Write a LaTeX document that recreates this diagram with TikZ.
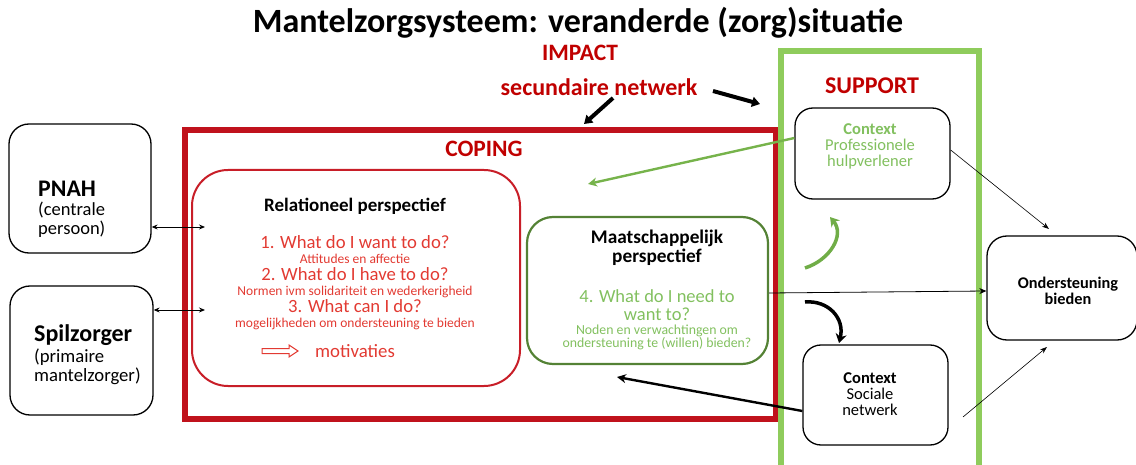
\documentclass[tikz,border=0pt]{standalone}
\usepackage{fontspec}
\setmainfont{Carlito}
\usetikzlibrary{arrows.meta}

\definecolor{titlered}{RGB}{192,0,0}
\definecolor{framered}{RGB}{192,18,28}
\definecolor{softred}{RGB}{226,58,50}
\definecolor{boxred}{RGB}{200,30,40}
\definecolor{framegreen}{RGB}{143,204,92}
\definecolor{darkgreen}{RGB}{84,130,53}
\definecolor{softgreen}{RGB}{130,192,95}
\definecolor{arrowgreen}{RGB}{112,173,71}

% font size with a given line distance
\newcommand\fsz[2]{\fontsize{#1}{#2}\selectfont}

\begin{document}
\begin{tikzpicture}[x=1pt,y=-1pt,
  box/.style={draw=black, line width=1.3pt, rounded corners=20pt, inner sep=0pt, fill=white},
  txt/.style={inner sep=0pt, anchor=center, align=center},
  ltxt/.style={inner sep=0pt, anchor=west, align=left},
  thin/.style={line width=0.6pt, -{Stealth[length=7pt,width=5pt]}},
  heavy/.style={line width=4pt, -{Triangle[length=8pt,width=10pt]}},
]
\useasboundingbox (0,0) rectangle (1136,465);

% title and heading labels
\node[txt, font=\fsz{34}{36}\bfseries] (title) at (578,23) {Mantelzorgsysteem: veranderde (zorg)situatie};
\node[txt, font=\fsz{23.5}{24}\bfseries, text=titlered] (impact) at (580,53) {IMPACT};
\node[txt, font=\fsz{24}{24}\bfseries, text=titlered] (sec) at (599,87) {secundaire netwerk};

% coping frame and support frame
\draw[framered, line width=6pt] (185,130) rectangle (776,419);
\draw[framegreen, line width=6pt] (781,51) -- (979,51) -- (979,470) (781,470) -- (781,48);
\node[txt, font=\fsz{23.5}{24}\bfseries, text=titlered] (coping) at (484,149) {COPING};
\node[txt, font=\fsz{24}{24}\bfseries, text=titlered] (support) at (872,86) {SUPPORT};

% arrows from the secondary network
\coordinate (s1a) at (713,91);
\coordinate (s1b) at (760,104);
\coordinate (s2a) at (613,98);
\coordinate (s2b) at (584,124);
\draw[heavy] (s1a) -- (s1b);
\draw[heavy] (s2a) -- (s2b);

% left boxes
\node[box, minimum width=142pt, minimum height=129pt] (pnah) at (80,188.5) {};
\node[ltxt, font=\fsz{23.8}{24}\bfseries] (pnaht) at (38,189) {PNAH};
\node[ltxt, font=\fsz{18.5}{19}] (pnahs) at (38,220) {(centrale\\persoon)};

\node[box, minimum width=143pt, minimum height=129pt] (spil) at (81.5,350.5) {};
\node[ltxt, font=\fsz{24}{24}\bfseries] (spilt) at (34,335) {Spilzorger};
\node[ltxt, font=\fsz{18.7}{19}] (spils) at (34,366.5) {(primaire\\mantelzorger)};

% relational perspective
\node[draw=boxred, line width=2pt, rounded corners=36pt, minimum width=328pt, minimum height=216pt, inner sep=0pt] (rel) at (356,278) {};
\node[txt, font=\fsz{19}{19}\bfseries] (relt) at (355,206) {Relationeel perspectief};
\node[txt, font=\fsz{18.7}{19}, text=softred] (q1) at (355,242.5) {1. What do I want to do?};
\node[txt, font=\fsz{13.5}{14}, text=softred] (a1) at (355,259) {Attitudes en affectie};
\node[txt, font=\fsz{18.7}{19}, text=softred] (q2) at (355,274.5) {2. What do I have to do?};
\node[txt, font=\fsz{13.5}{14}, text=softred] (a2) at (355,291.5) {Normen ivm solidariteit en wederkerigheid};
\node[txt, font=\fsz{18.7}{19}, text=softred] (q3) at (355,306.5) {3. What can I do?};
\node[txt, font=\fsz{13.5}{14}, text=softred] (a3) at (355,323.5) {mogelijkheden om ondersteuning te bieden};
\node[ltxt, font=\fsz{18.8}{19}, text=softred] (mot) at (315,351) {motivaties};
\draw[softred, line width=1pt] (262,348.5) -- (289,348.5) -- (289,345) -- (298,351) -- (289,357) -- (289,353.5) -- (262,353.5) -- cycle;

% societal perspective
\node[draw=darkgreen, line width=2.2pt, rounded corners=26pt, minimum width=241pt, minimum height=147pt, inner sep=0pt] (maat) at (647.5,290.5) {};
\node[txt, font=\fsz{19.3}{19}\bfseries] (maatt) at (657,248) {Maatschappelijk\\perspectief};
\node[txt, font=\fsz{18.5}{18}, text=softgreen] (q4) at (657,305) {4. What do I need to\\want to?};
\node[txt, font=\fsz{13.8}{13}, text=softgreen] (a4) at (657,337.5) {Noden en verwachtingen om\\ondersteuning te (willen) bieden?};

% support contexts
\node[box, rounded corners=18pt, minimum width=155pt, minimum height=91pt] (prof) at (872.5,153.5) {};
\node[txt, font=\fsz{16.5}{16}, text=softgreen] (proft) at (870,146) {\textbf{Context}\\Professionele\\hulpverlener};
\node[box, rounded corners=18pt, minimum width=145pt, minimum height=100pt] (soc) at (875.5,395) {};
\node[txt, font=\fsz{16.5}{16}] (soct) at (870,394) {\textbf{Context}\\Sociale\\netwerk};
\node[box, rounded corners=20pt, minimum width=150pt, minimum height=104pt] (ond) at (1062,288) {};
\node[txt, font=\fsz{16.3}{15.5}\bfseries] (ondt) at (1068,291) {Ondersteuning\\bieden};

% connectors
\coordinate (pa) at (205,227);
\coordinate (sa) at (205,310);
\draw[line width=0.9pt, {Stealth[length=6pt,width=5pt]}-{Stealth[length=6pt,width=5pt]}] (pnah.east |- pa) -- (pa);
\draw[line width=0.9pt, {Stealth[length=6pt,width=5pt]}-{Stealth[length=6pt,width=5pt]}] (spil.east |- sa) -- (sa);

\coordinate (pg) at (588,184);
\draw[arrowgreen!80!framegreen, line width=2.4pt, -{Stealth[length=9pt,width=9pt]}] (prof.west |- 0,138) -- (pg);

\coordinate (sb) at (617,377);
\draw[line width=2.4pt, -{Stealth[length=9pt,width=9pt]}] (soc.west |- 0,411) -- (sb);

\draw[line width=0.8pt, -{Stealth[length=7pt,width=6pt]}] (maat.east |- 0,293) -- (ond.west |- 0,291);

\coordinate (po) at (1049,229);
\coordinate (so1) at (963,417);
\coordinate (so2) at (1047,347);
\draw[thin] (prof.east |- 0,150) -- (po);
\draw[thin] (so1) -- (so2);

% exchange between the two support contexts
\coordinate (g1) at (805,268);
\coordinate (g2) at (830,217);
\draw[arrowgreen, line width=3.5pt, -{Stealth[length=9pt,width=11pt]}] (g1) .. controls (830,260) and (845,235) .. (g2);
\coordinate (b1) at (805,302);
\coordinate (b2) at (839,343);
\draw[black, line width=3.5pt, -{Stealth[length=9pt,width=11pt]}] (b1) .. controls (828,300) and (845,318) .. (b2);

\end{tikzpicture}
\end{document}
